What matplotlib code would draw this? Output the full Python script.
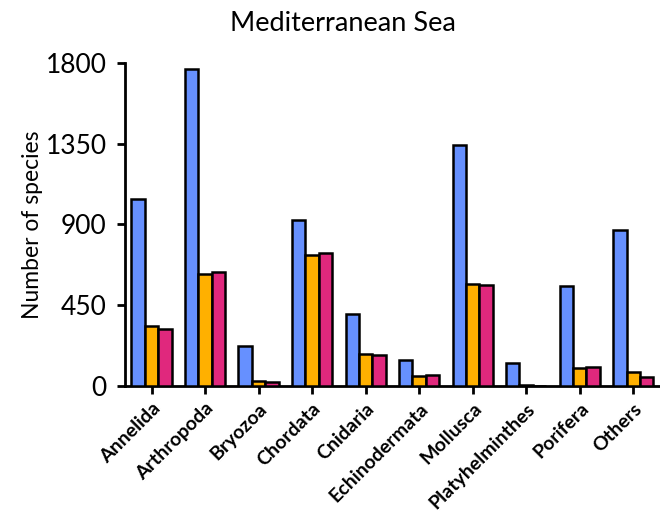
import numpy as np
import matplotlib
matplotlib.use("Agg")
import matplotlib.pyplot as plt

plt.rcParams["font.family"] = ["Lato", "DejaVu Sans"]

phyla = ["Annelida", "Arthropoda", "Bryozoa", "Chordata", "Cnidaria",
         "Echinodermata", "Mollusca", "Platyhelminthes", "Porifera", "Others"]
series_a = [1040, 1766, 221, 923, 400, 147, 1343, 127, 556, 867]
series_b = [333, 622, 28, 729, 177, 58, 566, 3, 100, 76]
series_c = [320, 636, 24, 739, 175, 61, 563, 2, 106, 50]
yticks = [0, 450, 900, 1350, 1800]

colors = ["#6690FF", "#FFB000", "#E0287D"]

fig = plt.figure(figsize=(6.6, 5.16), dpi=100)
ax = fig.add_axes([0.189, 0.252, 0.811, 0.626])

x = np.arange(len(phyla))
w = 0.25
for i, vals in enumerate([series_a, series_b, series_c]):
    ax.bar(x + (i - 1) * w, vals, width=w, color=colors[i],
           edgecolor="black", linewidth=1.8, zorder=3)

ax.set_xlim(-0.5, len(phyla) - 0.5)
ax.set_ylim(0, 1800)
ax.set_yticks(yticks)
ax.set_yticklabels([str(v) for v in yticks], fontsize=19)
ax.set_xticks(x)
ax.set_xticklabels(phyla, rotation=45, ha="right", rotation_mode="anchor",
                   fontsize=14, fontweight="bold")

for side in ["top", "right"]:
    ax.spines[side].set_visible(False)
for side in ["left", "bottom"]:
    ax.spines[side].set_linewidth(2)
ax.tick_params(axis="both", direction="out", width=2, length=6)
ax.tick_params(axis="y", pad=7)
ax.tick_params(axis="x", pad=4)

ax.set_ylabel("Number of species", fontsize=16.5, labelpad=2)
fig.text(0.52, 0.955, "Mediterranean Sea", ha="center", va="center", fontsize=19.5)

plt.savefig("out.png", dpi=100)
plt.close()
